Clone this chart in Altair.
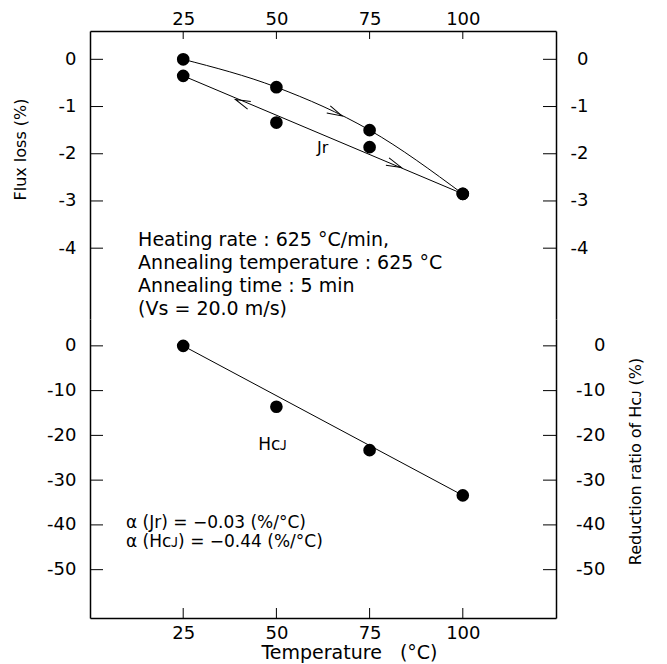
import altair as alt
import pandas as pd

# ---------------- data ----------------
temps = [25, 50, 75, 100]
flux_heating = [0.0, -0.59, -1.50, -2.85]
flux_cooling = [-0.35, -1.34, -1.86, -2.85]
hcj_reduction = [0.0, -13.6, -23.3, -33.4]

cool_fit_t = [25, 100]
cool_fit_flux = [-0.35, -2.85]
hcj_fit_t = [25, 100]
hcj_fit_red = [0.0, -33.4]

arrow_t = [67.6, 39.0, 83.5]
arrow_flux = [-1.20, -0.85, -2.29]
arrow_angle = [26, 203, 23]

flux_ticks = [0, -1, -2, -3, -4]
red_ticks = [0, -10, -20, -30, -40, -50]
temp_ticks = [25, 50, 75, 100]

info_text = ["Heating rate : 625 °C/min,\nAnnealing temperature : 625 °C\nAnnealing time : 5 min\n(Vs = 20.0 m/s)"]
info_pos = [12.9, -3.95]
jr_text = ["Jr"]
jr_pos = [60.9, -1.98]
hcj_text = ["Hᴄᴊ"]
hcj_pos = [45.1, -23.2]
alpha_text = ["α (Jr) = −0.03 (%/°C)\nα (Hᴄᴊ) = −0.44 (%/°C)"]
alpha_pos = [9.66, -40.6]

# ---------------- layout / style ----------------
X_DOMAIN = [0, 125]
FLUX_DOMAIN = [-5.5, 0.6]
RED_DOMAIN = [-60.8, 6.0]
W, H1, H2 = 466, 288, 299
FONT = "DejaVu Sans"
TICK_FS = 18

xscale = alt.Scale(domain=X_DOMAIN, nice=False, zero=False)
fscale = alt.Scale(domain=FLUX_DOMAIN, nice=False, zero=False)
rscale = alt.Scale(domain=RED_DOMAIN, nice=False, zero=False)


def yaxis(orient, values, pad, **kw):
    return alt.Axis(orient=orient, values=values, ticks=False, tickSize=0,
                    labelPadding=pad, labelAlign="right", labelBaseline="middle",
                    labelFont=FONT, labelFontSize=TICK_FS, labelColor="black",
                    labelExpr="datum.value + ''", labelOverlap=False,
                    domainColor="black", domainWidth=1.5, grid=False,
                    titleFont=FONT, titleFontWeight="normal", titleColor="black",
                    **kw)


def xaxis(orient, pad, **kw):
    return alt.Axis(orient=orient, values=temp_ticks, ticks=False, tickSize=0,
                    labelPadding=pad, labelAlign="center", labelBaseline="alphabetic",
                    labelFont=FONT, labelFontSize=TICK_FS, labelColor="black",
                    labelOverlap=False, labelFlush=False,
                    domainColor="black", domainWidth=1.5, grid=False,
                    titleFont=FONT, titleFontWeight="normal", titleColor="black",
                    **kw)


ftick_df = pd.DataFrame({"v": flux_ticks})
rtick_df = pd.DataFrame({"v": red_ticks})
ttick_df = pd.DataFrame({"t": temp_ticks})

rule = dict(color="black", strokeWidth=1)

# ---------------- upper panel: flux loss ----------------
u_left = alt.Chart(ftick_df).mark_rule(**rule).encode(
    y=alt.Y("v:Q", scale=fscale,
            axis=yaxis("left", flux_ticks, 14, title="Flux loss (%)", titleFontSize=16,
                       titleAngle=270, titleX=-65, titleY=118, titleAlign="center",
                       titleBaseline="alphabetic")),
    x=alt.value(0), x2=alt.value(13))
u_right = alt.Chart(ftick_df).mark_rule(**rule).encode(
    y=alt.Y("v:Q", scale=fscale, axis=yaxis("right", flux_ticks, 32, title=None)),
    x=alt.value(W - 13), x2=alt.value(W))
u_top = alt.Chart(ttick_df).mark_rule(**rule).encode(
    x=alt.X("t:Q", scale=xscale, axis=xaxis("top", 7, title=None)),
    y=alt.value(0), y2=alt.value(8))

heat_df = pd.DataFrame({"t": temps, "v": flux_heating})
cool_df = pd.DataFrame({"t": temps, "v": flux_cooling})
cool_fit_df = pd.DataFrame({"t": cool_fit_t, "v": cool_fit_flux})
pts_up = pd.concat([heat_df, cool_df], ignore_index=True)

u_heat = alt.Chart(heat_df).mark_line(interpolate="monotone", **rule).encode(
    x=alt.X("t:Q", scale=xscale, axis=None), y=alt.Y("v:Q", scale=fscale, axis=None))
u_cool = alt.Chart(cool_fit_df).mark_line(**rule).encode(
    x=alt.X("t:Q", scale=xscale, axis=None), y=alt.Y("v:Q", scale=fscale, axis=None))
u_pts = alt.Chart(pts_up).mark_circle(size=160, color="black", opacity=1).encode(
    x=alt.X("t:Q", scale=xscale, axis=None), y=alt.Y("v:Q", scale=fscale, axis=None))

arrow_df = pd.DataFrame({"t": arrow_t, "v": arrow_flux, "a": arrow_angle})
u_arrows = alt.Chart(arrow_df).mark_point(
    shape="M-1,-0.27L0,0L-1,0.27", filled=False, size=900, color="black",
    strokeWidth=1, opacity=1).encode(
    x=alt.X("t:Q", scale=xscale, axis=None), y=alt.Y("v:Q", scale=fscale, axis=None),
    angle=alt.Angle("a:Q", scale=None))

info_df = pd.DataFrame({"t": [info_pos[0]], "v": [info_pos[1]], "s": info_text})
u_info = alt.Chart(info_df).mark_text(
    align="left", baseline="alphabetic", font=FONT, fontSize=19, lineBreak="\n",
    lineHeight=23, color="black").encode(
    x=alt.X("t:Q", scale=xscale, axis=None), y=alt.Y("v:Q", scale=fscale, axis=None),
    text="s:N")
jr_df = pd.DataFrame({"t": [jr_pos[0]], "v": [jr_pos[1]], "s": jr_text})
u_jr = alt.Chart(jr_df).mark_text(
    align="left", baseline="alphabetic", font=FONT, fontSize=16, color="black").encode(
    x=alt.X("t:Q", scale=xscale, axis=None), y=alt.Y("v:Q", scale=fscale, axis=None),
    text="s:N")

upper = alt.layer(u_left, u_right, u_top, u_heat, u_cool, u_pts, u_arrows, u_info, u_jr
                  ).properties(width=W, height=H1).resolve_axis(x="independent", y="independent")

# ---------------- lower panel: reduction ratio of HcJ ----------------
l_left = alt.Chart(rtick_df).mark_rule(**rule).encode(
    y=alt.Y("v:Q", scale=rscale, axis=yaxis("left", red_ticks, 14, title=None)),
    x=alt.value(0), x2=alt.value(13))
l_right = alt.Chart(rtick_df).mark_rule(**rule).encode(
    y=alt.Y("v:Q", scale=rscale,
            axis=yaxis("right", red_ticks, 49, title="Reduction ratio of Hᴄᴊ (%)",
                       titleFontSize=16, titleAngle=270, titleX=84, titleY=142,
                       titleAlign="center", titleBaseline="alphabetic")),
    x=alt.value(W - 13), x2=alt.value(W))
l_bottom = alt.Chart(ttick_df).mark_rule(**rule).encode(
    x=alt.X("t:Q", scale=xscale,
            axis=xaxis("bottom", 20, title="Temperature\u00a0\u00a0\u00a0(°C)",
                       titleFontSize=19, titleX=259, titleY=40, titleAlign="center",
                       titleBaseline="alphabetic")),
    y=alt.value(H2 - 10), y2=alt.value(H2))

hcj_df = pd.DataFrame({"t": temps, "v": hcj_reduction})
hcj_fit_df = pd.DataFrame({"t": hcj_fit_t, "v": hcj_fit_red})
l_line = alt.Chart(hcj_fit_df).mark_line(**rule).encode(
    x=alt.X("t:Q", scale=xscale, axis=None), y=alt.Y("v:Q", scale=rscale, axis=None))
l_pts = alt.Chart(hcj_df).mark_circle(size=160, color="black", opacity=1).encode(
    x=alt.X("t:Q", scale=xscale, axis=None), y=alt.Y("v:Q", scale=rscale, axis=None))

hlab_df = pd.DataFrame({"t": [hcj_pos[0]], "v": [hcj_pos[1]], "s": hcj_text})
l_hlab = alt.Chart(hlab_df).mark_text(
    align="left", baseline="alphabetic", font=FONT, fontSize=17, color="black").encode(
    x=alt.X("t:Q", scale=xscale, axis=None), y=alt.Y("v:Q", scale=rscale, axis=None),
    text="s:N")
alpha_df = pd.DataFrame({"t": [alpha_pos[0]], "v": [alpha_pos[1]], "s": alpha_text})
l_alpha = alt.Chart(alpha_df).mark_text(
    align="left", baseline="alphabetic", font=FONT, fontSize=17, lineBreak="\n",
    lineHeight=19.5, color="black").encode(
    x=alt.X("t:Q", scale=xscale, axis=None), y=alt.Y("v:Q", scale=rscale, axis=None),
    text="s:N")

lower = alt.layer(l_left, l_right, l_bottom, l_line, l_pts, l_hlab, l_alpha
                  ).properties(width=W, height=H2).resolve_axis(x="independent", y="independent")

chart = alt.vconcat(upper, lower, spacing=0, bounds="flush",
                    padding={"left": 4, "top": 2, "right": 5, "bottom": 2},
                    background="white"
                    ).configure_view(stroke="transparent", strokeWidth=0)

chart.save("out.html", embed_options={"renderer": "svg", "actions": False})
